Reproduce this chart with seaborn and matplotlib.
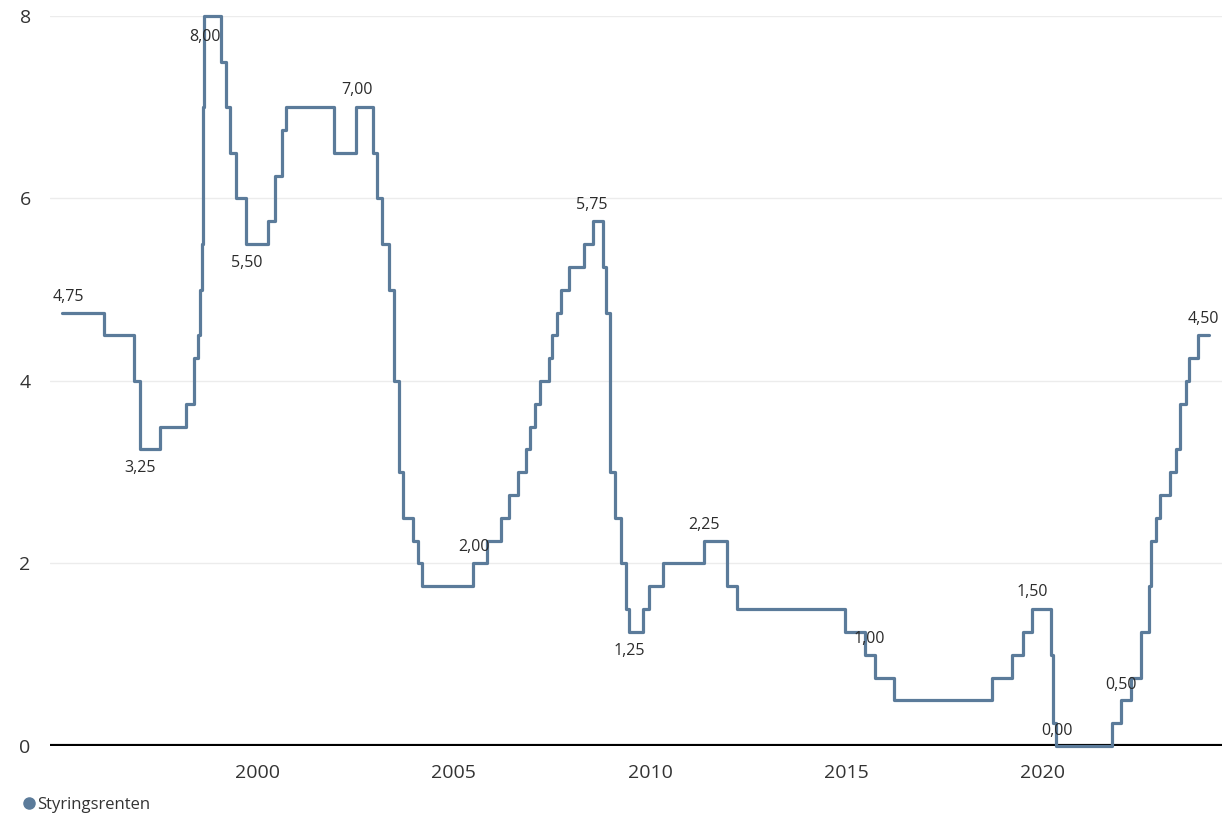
import pandas as pd
import matplotlib
matplotlib.use("Agg")
import matplotlib.pyplot as plt
import matplotlib.dates as mdates
from matplotlib.lines import Line2D
import seaborn as sns

# Styringsrenten, date of change and new level (%)
dates = [
    "1995-01-01", "1996-02-01", "1996-11-01", "1997-01-01", "1997-07-08",
    "1998-03-06", "1998-05-18", "1998-06-25", "1998-07-08", "1998-07-26",
    "1998-08-10", "1998-08-14", "1999-01-22", "1999-03-08", "1999-04-20",
    "1999-06-10", "1999-09-16", "2000-04-05", "2000-06-10", "2000-08-10",
    "2000-09-24", "2001-12-10", "2002-07-02", "2002-12-10", "2003-01-20",
    "2003-03-05", "2003-05-05", "2003-06-20", "2003-08-05", "2003-09-12",
    "2003-12-17", "2004-01-30", "2004-03-10", "2005-07-01", "2005-11-02",
    "2006-03-17", "2006-06-02", "2006-08-18", "2006-11-07", "2006-12-15",
    "2007-01-22", "2007-03-17", "2007-06-02", "2007-07-05", "2007-08-22",
    "2007-09-27", "2007-12-12", "2008-05-01", "2008-07-16", "2008-10-20",
    "2008-11-14", "2008-12-24", "2009-02-10", "2009-04-08", "2009-05-22",
    "2009-06-24", "2009-10-30", "2009-12-20", "2010-05-05", "2011-05-22",
    "2011-12-20", "2012-03-18", "2014-12-20", "2015-06-25", "2015-09-27",
    "2016-03-25", "2018-09-24", "2019-03-28", "2019-07-08", "2019-10-01",
    "2020-03-28", "2020-04-15", "2020-05-12", "2021-10-15", "2022-01-01",
    "2022-04-12", "2022-07-08", "2022-09-24", "2022-10-08", "2022-11-28",
    "2023-01-01", "2023-04-06", "2023-05-30", "2023-07-08", "2023-09-06",
    "2023-10-05", "2023-12-20", "2024-04-01",
]
rates = [
    4.75, 4.50, 4.00, 3.25, 3.50,
    3.75, 4.25, 4.50, 5.00, 5.50,
    7.00, 8.00, 7.50, 7.00, 6.50,
    6.00, 5.50, 5.75, 6.25, 6.75,
    7.00, 6.50, 7.00, 6.50, 6.00,
    5.50, 5.00, 4.00, 3.00, 2.50,
    2.25, 2.00, 1.75, 2.00, 2.25,
    2.50, 2.75, 3.00, 3.25, 3.50,
    3.75, 4.00, 4.25, 4.50, 4.75,
    5.00, 5.25, 5.50, 5.75, 5.25,
    4.75, 3.00, 2.50, 2.00, 1.50,
    1.25, 1.50, 1.75, 2.00, 2.25,
    1.75, 1.50, 1.25, 1.00, 0.75,
    0.50, 0.75, 1.00, 1.25, 1.50,
    1.00, 0.25, 0.00, 0.25, 0.50,
    0.75, 1.25, 1.75, 2.25, 2.50,
    2.75, 3.00, 3.25, 3.75, 4.00,
    4.25, 4.50, 4.50,
]

# labelled points: date, value, label offset in pixels
label_dates = ["1995-01-01", "1997-01-01", "1998-08-14", "1999-09-16", "2002-07-02",
               "2005-07-01", "2008-07-16", "2009-06-24", "2011-05-22", "2015-06-25",
               "2019-10-01", "2020-05-12", "2022-01-01", "2023-12-20"]
label_values = [4.75, 3.25, 8.00, 5.50, 7.00, 2.00, 5.75, 1.25, 2.25, 1.00,
                1.50, 0.00, 0.50, 4.50]
label_offsets = [(7, 16), (0, -19), (1, -21), (0, -19), (1, 17), (1, 16), (-1, 16),
                 (0, -19), (0, 16), (4, 16), (0, 17), (1, 15), (0, 15), (6, 16)]

line_color = "#5b7b9a"

df = pd.DataFrame({"dato": pd.to_datetime(dates), "rente": rates})

sns.set_style("white")
plt.rcParams["font.family"] = ["Open Sans", "DejaVu Sans"]

fig = plt.figure(figsize=(12.23, 8.15), dpi=100)
ax = fig.add_axes([0.041, 0.0847, 0.958, 0.8957])

sns.lineplot(data=df, x="dato", y="rente", ax=ax, color=line_color,
             linewidth=2.3, drawstyle="steps-post", zorder=3, clip_on=False)
ax.axhline(0, color="black", linewidth=3.0, zorder=2)

for d, v, (dx, dy) in zip(label_dates, label_values, label_offsets):
    ax.annotate(f"{v:.2f}".replace(".", ","), xy=(pd.Timestamp(d), v),
                xytext=(dx, dy), textcoords="offset pixels",
                ha="center", va="center", fontsize=11.5, color="#2b2b2b", zorder=4)

ax.set_xlim(pd.Timestamp("1994-09-15"), pd.Timestamp("2024-08-01"))
ax.set_ylim(0, 8)
ax.set_yticks([0, 2, 4, 6, 8])
ax.set_xticks([pd.Timestamp(f"{y}-01-01") for y in [2000, 2005, 2010, 2015, 2020]])
ax.xaxis.set_major_formatter(mdates.DateFormatter("%Y"))
ax.grid(axis="y", color="#ececec", linewidth=1)
ax.tick_params(axis="both", length=0, labelsize=14, colors="#333333")
ax.tick_params(axis="y", pad=14)
ax.tick_params(axis="x", pad=13)
ax.set_xlabel("")
ax.set_ylabel("")
sns.despine(ax=ax, left=True, bottom=True)

handle = Line2D([], [], marker="o", linestyle="none", color=line_color, markersize=8)
fig.legend([handle], ["Styringsrenten"], loc="center left",
           bbox_to_anchor=(0.019, 1 - 805 / 815), frameon=False, fontsize=12,
           handlelength=0.75, handletextpad=0.1, borderpad=0, borderaxespad=0,
           labelcolor="#333333")

fig.savefig("out.png", dpi=100)
